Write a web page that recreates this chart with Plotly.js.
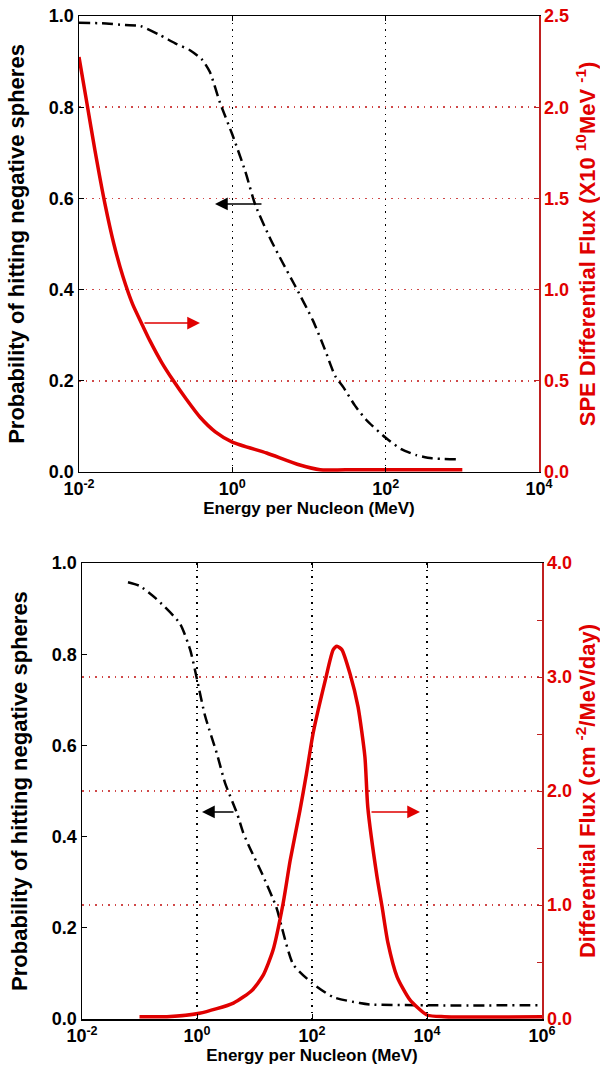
<!DOCTYPE html>
<html>
<head>
<meta charset="utf-8">
<script src="https://cdn.plot.ly/plotly-3.0.1.min.js"></script>
<style>html,body{margin:0;padding:0;background:#fff;}#chart{width:600px;height:1078px;}</style>
</head>
<body>
<div id="chart"></div>
<script>
// ---- Top panel (SPE spectrum) ----
const topProbEnergy = [0.01, 0.02, 0.04, 0.063, 0.114, 0.18, 0.28, 0.4, 0.51, 0.69, 1.0, 1.47, 2.0, 3.16, 4.5, 6.5, 11.2, 16, 22, 28, 40, 56, 100, 160, 250, 400, 850];
const topProb = [0.985, 0.984, 0.98, 0.978, 0.958, 0.94, 0.925, 0.905, 0.877, 0.81, 0.74, 0.66, 0.585, 0.51, 0.46, 0.41, 0.333, 0.27, 0.21, 0.186, 0.145, 0.114, 0.075, 0.05, 0.037, 0.03, 0.028];
const topFluxEnergy = [0.01, 0.0127, 0.0162, 0.0218, 0.0285, 0.0375, 0.05, 0.068, 0.084, 0.12, 0.168, 0.25, 0.38, 0.6, 1.0, 2.8, 7.6, 14, 30, 1000];
const topFlux = [2.275, 2.02, 1.76, 1.47, 1.25, 1.07, 0.92, 0.8, 0.72, 0.6, 0.504, 0.40, 0.30, 0.22, 0.164, 0.104, 0.038, 0.012, 0.012, 0.012];

// ---- Bottom panel (GCR spectrum) ----
const botProbEnergy = [0.063, 0.1, 0.19, 0.5, 0.76, 1.0, 1.38, 2.24, 3.07, 5.0, 6.3, 8.3, 13.4, 24, 30, 47, 100, 234, 676, 1000, 10000, 1000000];
const botProb = [0.958, 0.95, 0.923, 0.868, 0.81, 0.745, 0.665, 0.58, 0.518, 0.45, 0.41, 0.375, 0.32, 0.245, 0.2, 0.12, 0.079, 0.048, 0.035, 0.032, 0.03, 0.03];
const botFluxEnergy = [0.1, 0.3, 1.1, 4.3, 9, 14, 20.9, 31.6, 41.7, 61.7, 80, 104, 170, 234, 272, 330, 457, 631, 832, 933, 1349, 1660, 2089, 3020, 5012, 10000, 20000, 1000000];
const botFlux = [0.02, 0.02, 0.05, 0.14, 0.25, 0.38, 0.6, 1.02, 1.39, 1.83, 2.15, 2.5, 2.97, 3.24, 3.27, 3.24, 3.03, 2.74, 2.3, 1.86, 1.25, 0.98, 0.67, 0.37, 0.17, 0.035, 0.02, 0.02];

const topTickVals = [0.01, 1, 100, 10000];
const topTickText = ['<b>10<sup>-2</sup></b>', '<b>10<sup>0</sup></b>', '<b>10<sup>2</sup></b>', '<b>10<sup>4</sup></b>'];
const botTickVals = [0.01, 1, 100, 10000, 1000000];
const botTickText = ['<b>10<sup>-2</sup></b>', '<b>10<sup>0</sup></b>', '<b>10<sup>2</sup></b>', '<b>10<sup>4</sup></b>', '<b>10<sup>6</sup></b>'];
const probTickVals = [0, 0.2, 0.4, 0.6, 0.8, 1.0];
const probTickText = ['<b>0.0</b>', '<b>0.2</b>', '<b>0.4</b>', '<b>0.6</b>', '<b>0.8</b>', '<b>1.0</b>'];
const speTickVals = [0, 0.5, 1.0, 1.5, 2.0, 2.5];
const speTickText = ['<b>0.0</b>', '<b>0.5</b>', '<b>1.0</b>', '<b>1.5</b>', '<b>2.0</b>', '<b>2.5</b>'];
const gcrTickVals = [0, 1, 2, 3, 4];
const gcrTickText = ['<b>0.0</b>', '<b>1.0</b>', '<b>2.0</b>', '<b>3.0</b>', '<b>4.0</b>'];
const gcrMinorVals = [0.5, 1.5, 2.5, 3.5];

const FONT = 'Liberation Sans, Arial, sans-serif';
const RED = '#e00000';
const AXRED = '#c02020';
const GRIDRED = '#d04848';
const DASHDOT = '11px,5px,2px,5px';

const traces = [
  {x: topProbEnergy, y: topProb, xaxis: 'x', yaxis: 'y', mode: 'lines', line: {color: 'black', width: 2.5, dash: DASHDOT, shape: 'spline', smoothing: 0.6}},
  {x: topFluxEnergy, y: topFlux, xaxis: 'x', yaxis: 'y2', mode: 'lines', line: {color: RED, width: 3.5, shape: 'spline', smoothing: 0.6}},
  {x: botProbEnergy, y: botProb, xaxis: 'x2', yaxis: 'y3', mode: 'lines', line: {color: 'black', width: 2.5, dash: DASHDOT, shape: 'spline', smoothing: 0.6}},
  {x: botFluxEnergy, y: botFlux, xaxis: 'x2', yaxis: 'y4', mode: 'lines', line: {color: RED, width: 3.5, shape: 'spline', smoothing: 0.6}}
];

const tickFont = {family: FONT, size: 18, color: 'black', weight: 'bold'};
const redTickFont = {family: FONT, size: 18, color: RED, weight: 'bold'};
const xTitleFont = {family: FONT, size: 17, color: 'black', weight: 'bold'};
const yTitleFont = {family: FONT, size: 22, color: 'black', weight: 'bold'};
const redTitleFont = {family: FONT, size: 22, color: RED, weight: 'bold'};
const NB = '\u00A0';

function xAxis(domain, anchor, range, vals, text, title) {
  return {
    type: 'log', domain: domain, anchor: anchor, range: range,
    tickmode: 'array', tickvals: vals, ticktext: text,
    ticks: 'inside', ticklen: 5, tickcolor: 'black',
    showline: true, linecolor: 'black', linewidth: 1.5, mirror: 'ticks',
    showgrid: true, gridcolor: 'black', griddash: '1.5px,5px', gridwidth: 1.5,
    zeroline: false, tickfont: tickFont,
    title: {text: title, font: xTitleFont, standoff: 0}
  };
}
function leftAxis(domain, anchor) {
  return {
    domain: domain, anchor: anchor, range: [0, 1],
    tickmode: 'array', tickvals: probTickVals, ticktext: probTickText,
    ticks: 'inside', ticklen: 5, tickcolor: 'black',
    showline: true, linecolor: 'black', linewidth: 1.5,
    showgrid: false, zeroline: false, tickfont: tickFont,
    title: {text: 'Probability of hitting negative spheres', font: yTitleFont}
  };
}

const layout = {
  width: 600, height: 1078,
  margin: {l: 79, r: 58, t: 16, b: 59},
  paper_bgcolor: 'white', plot_bgcolor: 'white',
  showlegend: false,
  font: {family: FONT},
  xaxis: xAxis([0, 460 / 463], 'y', [-2, 4], topTickVals, topTickText, 'Energy per Nucleon (MeV)' + NB.repeat(10)),
  yaxis: leftAxis([0.5454, 1], 'x'),
  yaxis2: {
    overlaying: 'y', side: 'right', anchor: 'x', range: [0, 2.5],
    tickmode: 'array', tickvals: speTickVals, ticktext: speTickText,
    ticks: 'inside', ticklen: 5, tickcolor: AXRED,
    showline: true, linecolor: AXRED, linewidth: 1.5,
    showgrid: true, gridcolor: GRIDRED, griddash: '1.5px,5px', gridwidth: 1.5, zeroline: false,
    tickfont: redTickFont,
    title: {text: 'SPE Differential Flux (X10 <sup>10</sup>MeV <sup>-1</sup>)', font: redTitleFont}
  },
  xaxis2: xAxis([3 / 463, 1], 'y3', [-2, 6], botTickVals, botTickText, 'Energy per Nucleon (MeV)'),
  yaxis3: leftAxis([0, 0.4546], 'x2'),
  yaxis4: {
    overlaying: 'y3', side: 'right', anchor: 'x2', range: [0, 4],
    tickmode: 'array', tickvals: gcrTickVals, ticktext: gcrTickText,
    ticks: 'inside', ticklen: 5, tickcolor: AXRED,
    minor: {tickmode: 'array', tickvals: gcrMinorVals, ticks: 'inside', ticklen: 5, tickcolor: AXRED, showgrid: false},
    showline: true, linecolor: AXRED, linewidth: 1.5,
    showgrid: true, gridcolor: GRIDRED, griddash: '1.5px,5px', gridwidth: 1.5, zeroline: false,
    tickfont: redTickFont,
    title: {text: 'Differential Flux (cm <sup>-2</sup>/MeV/day)', font: redTitleFont}
  },
  annotations: [
    {xref: 'paper', yref: 'paper', x: 0.2937, y: 0.8126, showarrow: true, text: '', arrowcolor: 'black', arrowwidth: 1.5, arrowhead: 2, arrowsize: 1.7, axref: 'pixel', ayref: 'pixel', ax: 48, ay: 0},
    {xref: 'paper', yref: 'paper', x: 0.2613, y: 0.6939, showarrow: true, text: '', arrowcolor: RED, arrowwidth: 1.5, arrowhead: 2, arrowsize: 1.7, axref: 'pixel', ayref: 'pixel', ax: -57, ay: 0},
    {xref: 'paper', yref: 'paper', x: 0.2657, y: 0.2064, showarrow: true, text: '', arrowcolor: 'black', arrowwidth: 1.5, arrowhead: 2, arrowsize: 1.7, axref: 'pixel', ayref: 'pixel', ax: 33, ay: 0},
    {xref: 'paper', yref: 'paper', x: 0.7365, y: 0.2064, showarrow: true, text: '', arrowcolor: RED, arrowwidth: 1.5, arrowhead: 2, arrowsize: 1.7, axref: 'pixel', ayref: 'pixel', ax: -50, ay: 0}
  ]
};

Plotly.newPlot('chart', traces, layout, {staticPlot: true, displayModeBar: false});
</script>
</body>
</html>
